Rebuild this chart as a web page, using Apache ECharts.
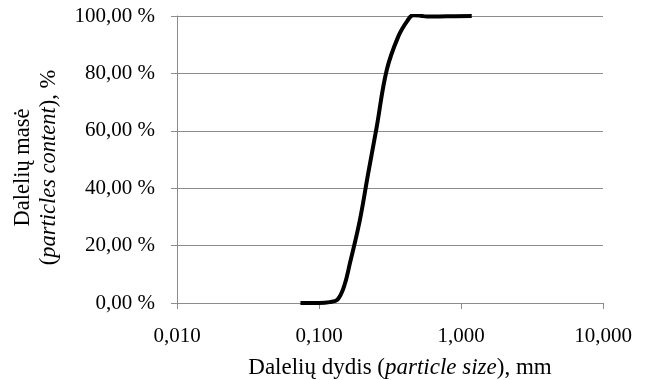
<!DOCTYPE html>
<html>
<head>
<meta charset="utf-8">
<script src="https://cdn.jsdelivr.net/npm/echarts@6/dist/echarts.min.js"></script>
<style>
  html, body { margin: 0; padding: 0; background: #fff; }
  #chart { width: 647px; height: 380px; }
</style>
</head>
<body>
<div id="chart"></div>
<script>
// particle size, mm
const sizes = [0.074, 0.100, 0.119, 0.135, 0.150, 0.165, 0.194, 0.222, 0.255, 0.300, 0.362, 0.420, 0.461, 0.520, 0.573, 0.800, 1.190]
// cumulative particle mass, %
const masses = [0, 0, 0.3, 1.2, 5.7, 13.8, 28.9, 45.2, 61.4, 81.2, 92.9, 98.4, 100.3, 100.1, 99.8, 99.9, 100]

const serif = 'Liberation Serif, Times New Roman, serif'
const chart = echarts.init(document.getElementById('chart'))

chart.setOption({
  animation: false,
  grid: { left: 177, right: 44, top: 16, bottom: 77, outerBoundsMode: 'none' },
  xAxis: {
    type: 'log',
    logBase: 10,
    min: 0.01,
    max: 10,
    name: 'Dalelių dydis ({i|particle size}), mm',
    nameLocation: 'middle',
    nameGap: 53,
    nameTextStyle: {
      fontFamily: serif, fontSize: 23, color: '#000',
      padding: [0, 0, 0, 20],
      rich: { i: { fontFamily: serif, fontSize: 23, fontStyle: 'italic', color: '#000' } }
    },
    axisLine: { lineStyle: { color: '#8c8c8c', width: 1 } },
    axisTick: { show: true, inside: false, length: 6, lineStyle: { color: '#8c8c8c' } },
    minorTick: { show: false },
    splitLine: { show: false },
    axisLabel: {
      margin: 23,
      fontFamily: serif, fontSize: 21, color: '#000',
      formatter: v => v.toFixed(3).replace('.', ',')
    }
  },
  yAxis: {
    type: 'value',
    min: 0,
    max: 100,
    interval: 20,
    name: '{n|Dalelių masė}\n{n|(}{i|particles content}{n|), %}',
    nameLocation: 'middle',
    nameGap: 115,
    nameTextStyle: {
      padding: [0, 16, 0, 0],
      rich: {
        n: { fontFamily: serif, fontSize: 22.5, color: '#000', lineHeight: 26 },
        i: { fontFamily: serif, fontSize: 22.5, fontStyle: 'italic', color: '#000', lineHeight: 26 }
      }
    },
    axisLine: { show: true, lineStyle: { color: '#8c8c8c', width: 1 } },
    axisTick: { show: true, inside: false, length: 6, lineStyle: { color: '#8c8c8c' } },
    splitLine: { show: true, lineStyle: { color: '#8c8c8c', width: 1 } },
    axisLabel: {
      margin: 22,
      fontFamily: serif, fontSize: 21, color: '#000',
      formatter: v => v.toFixed(2).replace('.', ',') + ' %'
    }
  },
  series: [{
    type: 'line',
    data: sizes.map((s, i) => [s, masses[i]]),
    smooth: 0.4,
    showSymbol: false,
    lineStyle: { color: '#000', width: 4 }
  }]
})
</script>
</body>
</html>
